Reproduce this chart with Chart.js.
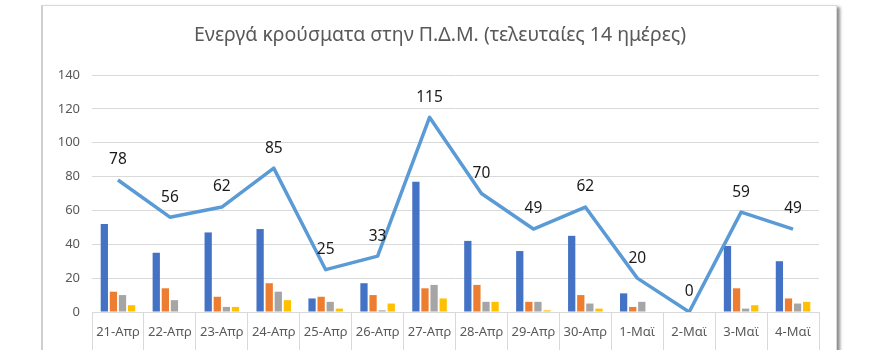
<!DOCTYPE html>
<html lang="el">
<head>
<meta charset="utf-8">
<title>Ενεργά κρούσματα</title>
<script src="https://cdn.jsdelivr.net/npm/chart.js@4.4.1/dist/chart.umd.min.js"></script>
<style>
    html, body { margin: 0; padding: 0; background: #fff; }
    body { width: 880px; height: 350px; position: relative; overflow: hidden; }
    .frame {
        position: absolute; left: 41px; top: 5px; width: 793px; height: 380px;
        border: 1px solid #d9d9d9; border-left: 2px solid #cfcfcf;
        box-shadow: 3px 2px 3px rgba(0, 0, 0, 0.45);
        background: #fff;
    }
    .wrap { position: absolute; left: 0; top: 0; width: 880px; height: 350px; }
</style>
</head>
<body>
<div class="frame"></div>
<div class="wrap"><canvas id="chart" width="880" height="350"></canvas></div>
<script>
const categories = ['21-Απρ', '22-Απρ', '23-Απρ', '24-Απρ', '25-Απρ', '26-Απρ', '27-Απρ',
    '28-Απρ', '29-Απρ', '30-Απρ', '1-Μαϊ', '2-Μαϊ', '3-Μαϊ', '4-Μαϊ'];

// total active cases (line) and its four components (bars)
const totalActive = [78, 56, 62, 85, 25, 33, 115, 70, 49, 62, 20, 0, 59, 49];
const blueBars = [52, 35, 47, 49, 8, 17, 77, 42, 36, 45, 11, 0, 39, 30];
const orangeBars = [12, 14, 9, 17, 9, 10, 14, 16, 6, 10, 3, 0, 14, 8];
const grayBars = [10, 7, 3, 12, 6, 1, 16, 6, 6, 5, 6, 0, 2, 5];
const yellowBars = [4, 0, 3, 7, 2, 5, 8, 6, 1, 2, 0, 0, 4, 6];

const yTicks = [0, 20, 40, 60, 80, 100, 120, 140];
const titleText = 'Ενεργά κρούσματα στην Π.Δ.Μ. (τελευταίες 14 ημέρες)';

const FONT = '"Noto Sans", "DejaVu Sans", sans-serif';
const GRID = '#d9d9d9';
const TEXT = '#595959';

// title centred on the frame, not on the plot area
const frameTitle = {
    id: 'frameTitle',
    afterDraw(chart) {
        const ctx = chart.ctx;
        ctx.save();
        ctx.font = '19.5px ' + FONT;
        ctx.fillStyle = TEXT;
        ctx.textAlign = 'center';
        ctx.textBaseline = 'middle';
        ctx.fillText(titleText, 440, 35);
        ctx.restore();
    }
};

// numbers above the line points
const lineLabels = {
    id: 'lineLabels',
    afterDatasetsDraw(chart) {
        const ctx = chart.ctx;
        chart.data.datasets.forEach((ds, i) => {
            if (ds.type !== 'line') return;
            const meta = chart.getDatasetMeta(i);
            ctx.save();
            ctx.font = '15.5px ' + FONT;
            ctx.fillStyle = '#1a1a1a';
            ctx.textAlign = 'center';
            ctx.textBaseline = 'middle';
            meta.data.forEach((pt, j) => {
                ctx.fillText(String(ds.data[j]), pt.x, pt.y - 20);
            });
            ctx.restore();
        });
    }
};

function bar(data, color) {
    return {
        type: 'bar',
        data: data,
        backgroundColor: color,
        borderWidth: 0,
        barPercentage: 0.8,
        categoryPercentage: 0.7,
        order: 1
    };
}

new Chart(document.getElementById('chart'), {
    data: {
        labels: categories,
        datasets: [
            {
                type: 'line',
                data: totalActive,
                borderColor: '#5b9bd5',
                borderWidth: 3.5,
                pointRadius: 0,
                tension: 0,
                borderJoinStyle: 'round',
                order: 0
            },
            bar(blueBars, '#4472c4'),
            bar(orangeBars, '#ed7d31'),
            bar(grayBars, '#a5a5a5'),
            bar(yellowBars, '#ffc000')
        ]
    },
    options: {
        responsive: false,
        animation: false,
        layout: { padding: { left: 42, right: 61, top: 75, bottom: 0 } },
        plugins: {
            legend: { display: false },
            tooltip: { enabled: false },
            title: { display: false }
        },
        scales: {
            x: {
                offset: true,
                grid: { display: true, offset: true, drawOnChartArea: false, drawTicks: true, tickLength: 40, color: GRID },
                border: { display: true, color: GRID },
                ticks: { color: TEXT, font: { family: FONT, size: 13 }, padding: -28, maxRotation: 0 },
                afterFit(scale) { scale.height = 38; }
            },
            y: {
                min: 0,
                max: 140,
                afterBuildTicks(scale) { scale.ticks = yTicks.map(v => ({ value: v })); },
                grid: { color: GRID, drawTicks: false },
                border: { display: false },
                ticks: { color: TEXT, font: { family: FONT, size: 13 }, padding: 12 },
                afterFit(scale) { scale.width = 50; }
            }
        }
    },
    plugins: [lineLabels, frameTitle]
});
</script>
</body>
</html>
